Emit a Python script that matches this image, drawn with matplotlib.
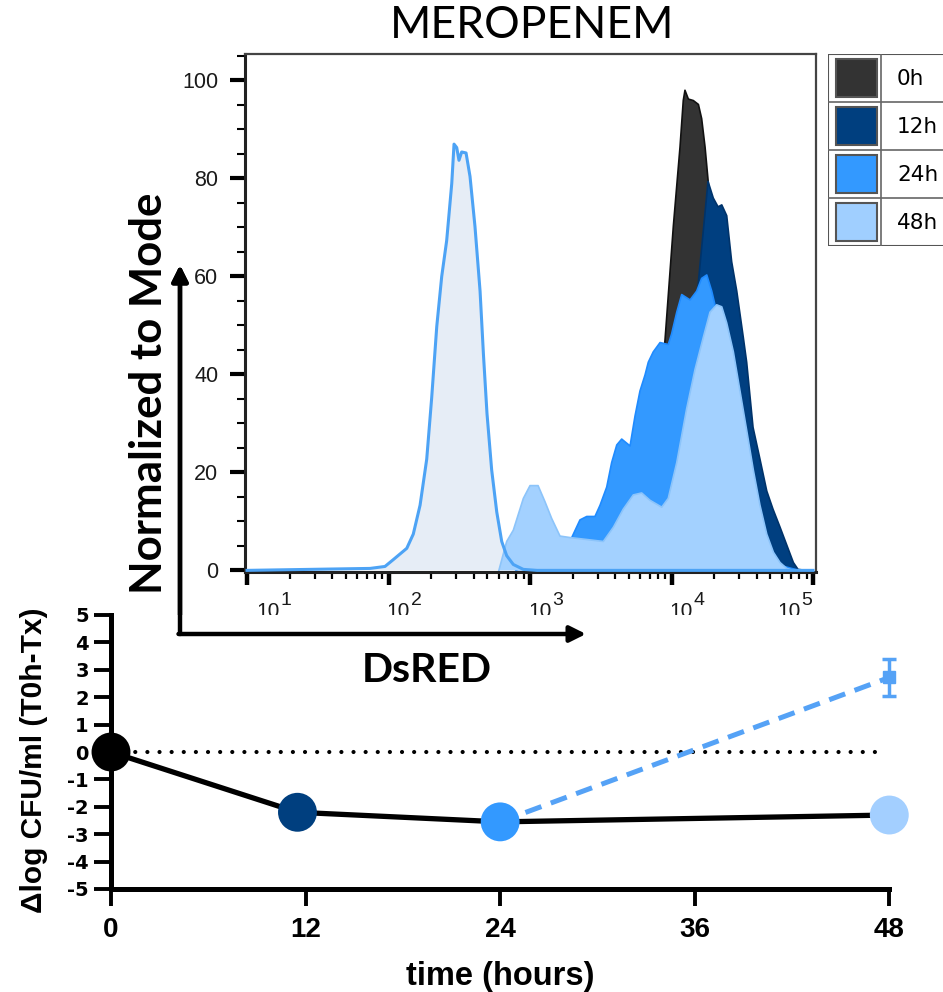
import matplotlib
matplotlib.use("Agg")
import matplotlib.pyplot as plt
import numpy as np
from matplotlib.patches import Rectangle
from matplotlib.ticker import FixedLocator, LogLocator, NullFormatter, MultipleLocator

# ---- flow histogram data (x = log10 DsRED, y = % of mode) ----
ctrl_log = [1.0, 1.87, 1.975, 2.034, 2.129, 2.175, 2.223, 2.270, 2.305, 2.341, 2.376, 2.411,
            2.447, 2.463, 2.482, 2.498, 2.517, 2.548, 2.576, 2.611, 2.647, 2.671, 2.696,
            2.729, 2.765, 2.800, 2.835, 2.882, 2.953, 3.05, 5.0]
ctrl_val = [0, 0.4, 0.8, 2.2, 4.5, 7.4, 13.3, 22.7, 35.2, 49.8, 60, 67.3,
            79, 87, 86.3, 83.7, 85.4, 85.2, 80.4, 70.2, 57, 44, 32,
            20.5, 11.9, 5.9, 3, 1.2, 0.2, 0, 0]

h0_log = [3.3, 3.6, 3.8, 3.93, 3.954, 4.013, 4.060, 4.083, 4.095, 4.119, 4.154, 4.19,
          4.213, 4.237, 4.26, 4.3, 4.4, 4.5, 4.6, 4.7, 4.8]
h0_val = [0, 10, 25, 40, 47, 70.3, 86.4, 95.9, 98, 96.2, 95.9, 95.1,
          92.2, 86.4, 79.1, 65, 45, 25, 10, 3, 0]

h12_log = [3.1, 3.5, 3.8, 4.0, 4.15, 4.187, 4.258, 4.295, 4.329, 4.355, 4.390, 4.425,
           4.461, 4.507, 4.531, 4.576, 4.625, 4.673, 4.717, 4.767, 4.814, 4.861, 4.894, 4.95]
h12_val = [0, 8, 25, 40, 52, 58, 79.4, 76, 74.2, 74.6, 72.4, 63,
           57, 47.6, 42.5, 29.2, 22.7, 16.2, 12.5, 8.8, 5.2, 1.6, 0.2, 0]

h24_log = [2.9, 3.2, 3.295, 3.353, 3.401, 3.459, 3.495, 3.542, 3.577, 3.613, 3.648, 3.707,
           3.742, 3.777, 3.813, 3.836, 3.871, 3.919, 3.977, 4.001, 4.037, 4.072, 4.131,
           4.178, 4.213, 4.249, 4.284, 4.307, 4.343, 4.41, 4.48, 4.63, 4.77, 4.9]
h24_val = [0, 4, 6.7, 10.3, 11, 11, 13.3, 17, 22, 25.6, 26.8, 25.4,
           31.5, 36.6, 39.9, 42.5, 44.6, 46.5, 46.1, 48.3, 52.7, 56.3, 55.2,
           57, 59.6, 60.3, 57, 54.2, 45, 35, 25, 8, 1, 0]

h48_log = [2.78, 2.835, 2.882, 2.953, 3.000, 3.057, 3.106, 3.153, 3.212, 3.283, 3.401, 3.518,
           3.589, 3.659, 3.730, 3.789, 3.848, 3.931, 3.977, 4.037, 4.107, 4.166, 4.225,
           4.272, 4.319, 4.355, 4.390, 4.437, 4.484, 4.531, 4.578, 4.625, 4.673, 4.720,
           4.767, 4.814, 4.86]
h48_val = [0, 5.9, 8.2, 14.7, 17.3, 17.3, 14, 10.6, 7, 6.7, 6.3, 5.9,
           8.8, 12.5, 15.4, 15.8, 14.3, 12.9, 14.7, 22, 33, 41, 47.6,
           52.7, 54.2, 53.8, 50.5, 44.6, 36.6, 28.6, 20.5, 13.3, 7.4, 3.7,
           1.6, 0.4, 0]

legend_labels = ["0h", "12h", "24h", "48h"]
legend_colors = ["#333333", "#003f7f", "#3399ff", "#a0cfff"]
decades = [1, 2, 3, 4, 5]
decade_label_pos = [1.15, 2.07, 3.07, 4.065, 4.83]

# ---- kill curve data ----
time_h = [0, 11.5, 24, 48]
dlog_cfu = [0, -2.2, -2.55, -2.3]
point_colors = ["#000000", "#003f7f", "#3399ff", "#a3cfff"]
regrowth_t = [24, 48]
regrowth_v = [-2.55, 2.72]
regrowth_err = [0, 0.67]

W, H = 943, 992
fig = plt.figure(figsize=(W / 100, H / 100), dpi=100)


def box(l, t, r, b):
    return [l / W, 1 - b / H, (r - l) / W, (b - t) / H]


# ================= histogram =================
ax1 = fig.add_axes(box(244.6, 53.5, 816, 571.6))
ax1.set_xscale("log")

ax1.fill_between(10 ** np.array(ctrl_log), ctrl_val, 0, facecolor="#e6edf6", edgecolor="none", zorder=1)
layers = [
    (h0_log, h0_val, "#333333", "#111111"),
    (h12_log, h12_val, "#003f80", "#00336a"),
    (h24_log, h24_val, "#3399ff", "#1f8bff"),
    (h48_log, h48_val, "#a3d1ff", "#8cc4fa"),
]
for xs, ys, fc, ec in layers:
    x = 10 ** np.array(xs)
    ax1.fill_between(x, ys, 0, facecolor=fc, edgecolor="none", zorder=2)
    ax1.plot(x, ys, color=ec, lw=1.2, zorder=2)
ax1.plot(10 ** np.array(ctrl_log), ctrl_val, color="#4da3f5", lw=2.2, zorder=3)

ax1.set_xlim(10 ** 0.983, 10 ** 5.021)
ax1.set_ylim(-0.25, 105.5)

ax1.xaxis.set_major_locator(FixedLocator([10.0 ** d for d in decades]))
ax1.xaxis.set_minor_locator(LogLocator(base=10, subs=np.arange(2, 10), numticks=20))
ax1.xaxis.set_major_formatter(NullFormatter())
ax1.xaxis.set_minor_formatter(NullFormatter())
ax1.yaxis.set_major_locator(MultipleLocator(20))
ax1.yaxis.set_minor_locator(MultipleLocator(5))
ax1.tick_params(axis="x", which="major", direction="out", length=9.5, width=3.2, color="black")
ax1.tick_params(axis="x", which="minor", direction="out", length=5, width=1.6, color="black")
ax1.tick_params(axis="y", which="major", direction="out", length=11, width=3, color="black",
                pad=8, labelsize=15.5, labelcolor="#1a1a1a")
ax1.tick_params(axis="y", which="minor", direction="out", length=6, width=1.5, color="black")
for lab in ax1.get_yticklabels():
    lab.set_family("Liberation Sans")
for s in ["left", "bottom"]:
    ax1.spines[s].set_linewidth(2.2)
    ax1.spines[s].set_color("#222222")
for s in ["top", "right"]:
    ax1.spines[s].set_linewidth(1.6)
    ax1.spines[s].set_color("#444444")

for d, p in zip(decades, decade_label_pos):
    ax1.annotate("10", xy=(10 ** p, 0), xycoords=("data", "axes fraction"), xytext=(0, -39.5),
                 textcoords="offset pixels", ha="center", va="center", fontsize=15,
                 family="Liberation Sans", color="#1a1a1a", annotation_clip=False)
    ax1.annotate(str(d), xy=(10 ** p, 0), xycoords=("data", "axes fraction"), xytext=(18, -28.5),
                 textcoords="offset pixels", ha="center", va="center", fontsize=14,
                 family="Liberation Sans", color="#1a1a1a", annotation_clip=False)

fig.text(531.7 / W, 1 - 38.3 / H, "MEROPENEM", ha="center", va="baseline", fontsize=32, family="Lato")
fig.text(426.7 / W, 1 - 681.7 / H, "DsRED", ha="center", va="baseline", fontsize=29.5,
         family="Lato", fontweight="bold")
fig.text(161.7 / W, 1 - 393.5 / H, "Normalized to Mode", rotation=90, rotation_mode="anchor",
         ha="center", va="baseline", fontsize=31.5, family="Lato", fontweight="bold")

arrow = dict(arrowstyle="-|>", lw=3.2, color="black", mutation_scale=24, shrinkA=0, shrinkB=0)
fig.add_artist(plt.annotate("", xy=(180, H - 265), xytext=(180, H - 634),
                            xycoords="figure pixels", arrowprops=arrow))
fig.add_artist(plt.annotate("", xy=(586, H - 634), xytext=(178.5, H - 634),
                            xycoords="figure pixels", arrowprops=arrow))

# legend table
axl = fig.add_axes(box(828, 54, 988, 246))
axl.set_xlim(0, 160)
axl.set_ylim(192, 0)
axl.axis("off")
for i, (lab, col) in enumerate(zip(legend_labels, legend_colors)):
    top = i * 48
    axl.add_patch(Rectangle((8, top + 5), 41, 38, facecolor=col, edgecolor="#555555", lw=1.5))
    axl.text(69, top + 25, lab, ha="left", va="center", fontsize=15.5, family="DejaVu Sans")
    if i > 0:
        axl.plot([0, 160], [top, top], color="#666666", lw=1.2)
axl.add_patch(Rectangle((0, 0), 160, 192, facecolor="none", edgecolor="#555555", lw=1.5))
axl.plot([53, 53], [0, 192], color="#666666", lw=1.2)

# ================= time-kill curve =================
ax2 = fig.add_axes(box(111, 615, 889.3, 889))
ax2.plot([0, 47.6], [0, 0], color="black", lw=3, linestyle=(0, (0.01, 2.9)),
         dash_capstyle="round", zorder=1)
ax2.plot(time_h, dlog_cfu, color="black", lw=3.8, zorder=2, clip_on=False)
ax2.plot(regrowth_t, regrowth_v, color="#55a2f6", lw=3.6, linestyle=(0, (3.4, 2)), zorder=2)
ax2.errorbar(regrowth_t[-1:], regrowth_v[-1:], yerr=regrowth_err[-1:], fmt="s", ms=9,
             color="#55a2f6", capsize=5, capthick=2.5, elinewidth=2.5, zorder=3, clip_on=False)
ax2.scatter(time_h, dlog_cfu, s=28 ** 2, c=point_colors, zorder=4, clip_on=False, linewidths=0)

ax2.set_xlim(0, 48)
ax2.set_ylim(-5, 5)
ax2.set_xticks([0, 12, 24, 36, 48])
ax2.set_yticks(range(-5, 6))
ax2.set_yticklabels([str(v) for v in range(-5, 6)])
for s in ["top", "right"]:
    ax2.spines[s].set_visible(False)
for s in ["left", "bottom"]:
    ax2.spines[s].set_linewidth(3.6)
ax2.tick_params(axis="y", length=12, width=2.8, pad=4, labelsize=14)
ax2.tick_params(axis="x", length=12, width=2.8, pad=8, labelsize=20)
for lab in ax2.get_yticklabels():
    lab.set_family("DejaVu Sans")
    lab.set_fontweight("bold")
for lab in ax2.get_xticklabels():
    lab.set_family("Liberation Sans")
    lab.set_fontweight("bold")

fig.text(500 / W, 1 - 985 / H, "time (hours)", ha="center", va="baseline", fontsize=23.5,
         family="Liberation Sans", fontweight="bold")
fig.text(42 / W, 1 - 760.5 / H, "Δlog CFU/ml (T0h-Tx)", rotation=90, rotation_mode="anchor",
         ha="center", va="baseline", fontsize=21.5, family="Liberation Sans", fontweight="bold")

fig.savefig("out.png", dpi=100)
